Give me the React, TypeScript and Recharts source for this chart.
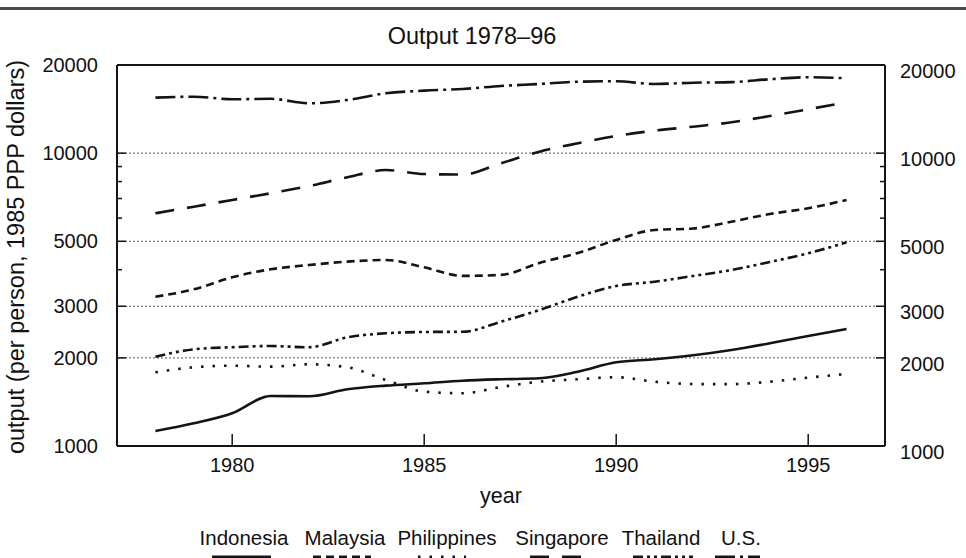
import React from 'react'
import { LineChart, Line, XAxis, YAxis, ReferenceLine } from 'recharts'

const years = [1978, 1979, 1980, 1981, 1982, 1983, 1984, 1985, 1986, 1987, 1988, 1989, 1990, 1991, 1992, 1993, 1994, 1995, 1996]

const indonesia = [1125, 1195, 1293, 1482, 1478, 1562, 1607, 1637, 1671, 1690, 1703, 1793, 1931, 1977, 2040, 2127, 2242, 2375, 2509]
const malaysia = [3235, 3428, 3768, 4012, 4150, 4262, 4317, 4075, 3810, 3840, 4217, 4562, 5053, 5466, 5530, 5834, 6198, 6482, 6920]
const philippines = [1785, 1857, 1880, 1866, 1901, 1857, 1681, 1533, 1514, 1590, 1658, 1690, 1717, 1658, 1628, 1626, 1658, 1712, 1762]
const singapore = [6233, 6566, 6920, 7295, 7724, 8271, 8759, 8489, 8450, 9236, 10117, 10806, 11446, 11934, 12314, 12746, 13397, 14120, 14920]
const thailand = [2018, 2139, 2174, 2195, 2174, 2350, 2426, 2451, 2455, 2658, 2913, 3235, 3519, 3640, 3807, 3990, 4250, 4550, 4960]
const us = [15470, 15590, 15280, 15330, 14800, 15190, 16010, 16350, 16570, 16960, 17230, 17540, 17600, 17230, 17400, 17480, 17880, 18160, 18020]

const xTicks = [1980, 1985, 1990, 1995]
const yTicks = [1000, 2000, 3000, 4000, 5000, 6000, 7000, 8000, 9000, 10000, 20000]
const yLabels = [1000, 2000, 3000, 5000, 10000, 20000]
const gridValues = [2000, 3000, 5000, 10000]

const series = [
  { key: 'Indonesia', values: indonesia, dash: undefined as string | undefined },
  { key: 'Malaysia', values: malaysia, dash: '8 5' },
  { key: 'Philippines', values: philippines, dash: '2.5 9' },
  { key: 'Singapore', values: singapore, dash: '19 13' },
  { key: 'Thailand', values: thailand, dash: '10 4 3 4 3 4' },
  { key: 'U.S.', values: us, dash: '20 5 3 5' },
]

const data = years.map((year, i) => {
  const row: Record<string, number> = { year }
  series.forEach(s => { row[s.key] = s.values[i] })
  return row
})

const FONT = '"Liberation Sans", Arial, Helvetica, sans-serif'
const INK = '#141414'

const XTick = (props: any) => {
  const { x, y, payload } = props
  return (
    <g>
      <line x1={x} x2={x} y1={y} y2={y - 12} stroke={INK} strokeWidth={1.5} />
      <text x={x} y={y + 19} textAnchor="middle" dominantBaseline="central" fontSize={20} fontFamily={FONT} fill="#111">
        {payload.value}
      </text>
    </g>
  )
}

const YTick = (props: any) => {
  const { x, y, payload, side } = props
  const v = payload.value
  const major = gridValues.includes(v)
  const len = major ? 9 : 5
  const dir = side === 'left' ? 1 : -1
  const showTick = v !== 1000 && v !== 20000
  return (
    <g>
      {showTick && <line x1={x} x2={x + dir * len} y1={y} y2={y} stroke={INK} strokeWidth={1.5} />}
      {yLabels.includes(v) && (
        <text
          x={side === 'left' ? x - 19 : x + 15}
          y={side === 'left' ? y : y + 6}
          textAnchor={side === 'left' ? 'end' : 'start'}
          dominantBaseline="central"
          fontSize={20}
          fontFamily={FONT}
          fill="#111"
        >
          {v}
        </text>
      )}
    </g>
  )
}

const legendPos = [
  { label: 'Indonesia', cx: 244, x1: 212, x2: 271 },
  { label: 'Malaysia', cx: 345, x1: 313, x2: 371 },
  { label: 'Philippines', cx: 447, x1: 418, x2: 466 },
  { label: 'Singapore', cx: 562, x1: 530, x2: 586 },
  { label: 'Thailand', cx: 661, x1: 633, x2: 693 },
  { label: 'U.S.', cx: 741, x1: 715, x2: 760 },
]

const centered = (x: number, y: number, size: number): React.CSSProperties => ({
  position: 'absolute',
  left: x,
  top: y,
  transform: 'translate(-50%, -50%)',
  fontFamily: FONT,
  fontSize: size,
  color: '#111',
  whiteSpace: 'nowrap',
  lineHeight: 1,
})

export default function App() {
  return (
    <div style={{ position: 'absolute', left: 0, top: 0, width: 966, height: 558, background: '#fff', overflow: 'hidden' }}>
      <div style={{ position: 'absolute', left: 0, top: 7, width: 966, height: 3, background: '#4a4a4a' }} />
      <div style={centered(472, 37, 23.5)}>Output 1978–96</div>
      <div style={{ ...centered(17, 257, 23.5), transform: 'translate(-50%, -50%) rotate(-90deg)' }}>
        output (per person, 1985 PPP dollars)
      </div>
      <div style={centered(501, 497, 21.5)}>year</div>
      {legendPos.map(l => (
        <div key={l.label} style={centered(l.cx, 538, 20.5)}>{l.label}</div>
      ))}
      <svg width={966} height={558} style={{ position: 'absolute', left: 0, top: 0, pointerEvents: 'none' }}>
        {legendPos.map((l, i) => (
          <line key={l.label} x1={l.x1} x2={l.x2} y1={557} y2={557} stroke={INK} strokeWidth={3} strokeDasharray={series[i].dash} />
        ))}
      </svg>
      <div style={{ position: 'absolute', left: 0, top: 0 }}>
        <LineChart width={966} height={558} data={data} margin={{ top: 65, right: 0, bottom: 0, left: 0 }}>
          <XAxis
            dataKey="year"
            type="number"
            domain={[1977, 1997]}
            ticks={xTicks}
            height={112}
            tickSize={0}
            tickMargin={0}
            tickLine={false}
            axisLine={{ stroke: INK, strokeWidth: 2 }}
            tick={<XTick />}
            interval={0}
          />
          <YAxis
            yAxisId="left"
            orientation="left"
            scale="log"
            type="number"
            domain={[1000, 20000]}
            allowDataOverflow
            ticks={yTicks}
            width={117}
            tickSize={0}
            tickMargin={0}
            tickLine={false}
            interval={0}
            axisLine={{ stroke: INK, strokeWidth: 2 }}
            tick={<YTick side="left" />}
          />
          <YAxis
            yAxisId="right"
            orientation="right"
            scale="log"
            type="number"
            domain={[1000, 20000]}
            allowDataOverflow
            ticks={yTicks}
            width={81}
            tickSize={0}
            tickMargin={0}
            tickLine={false}
            interval={0}
            axisLine={{ stroke: INK, strokeWidth: 2 }}
            tick={<YTick side="right" />}
          />
          {gridValues.map(v => (
            <ReferenceLine key={v} yAxisId="left" y={v} stroke="#7a7a7a" strokeWidth={1.3} strokeDasharray="2 2" />
          ))}
          <ReferenceLine yAxisId="left" y={20000} stroke={INK} strokeWidth={2} />
          {series.map(s => (
            <Line
              key={s.key}
              yAxisId="left"
              dataKey={s.key}
              type="monotone"
              stroke={INK}
              strokeWidth={2.6}
              strokeDasharray={s.dash}
              dot={false}
              activeDot={false}
              isAnimationActive={false}
            />
          ))}
        </LineChart>
      </div>
    </div>
  )
}
